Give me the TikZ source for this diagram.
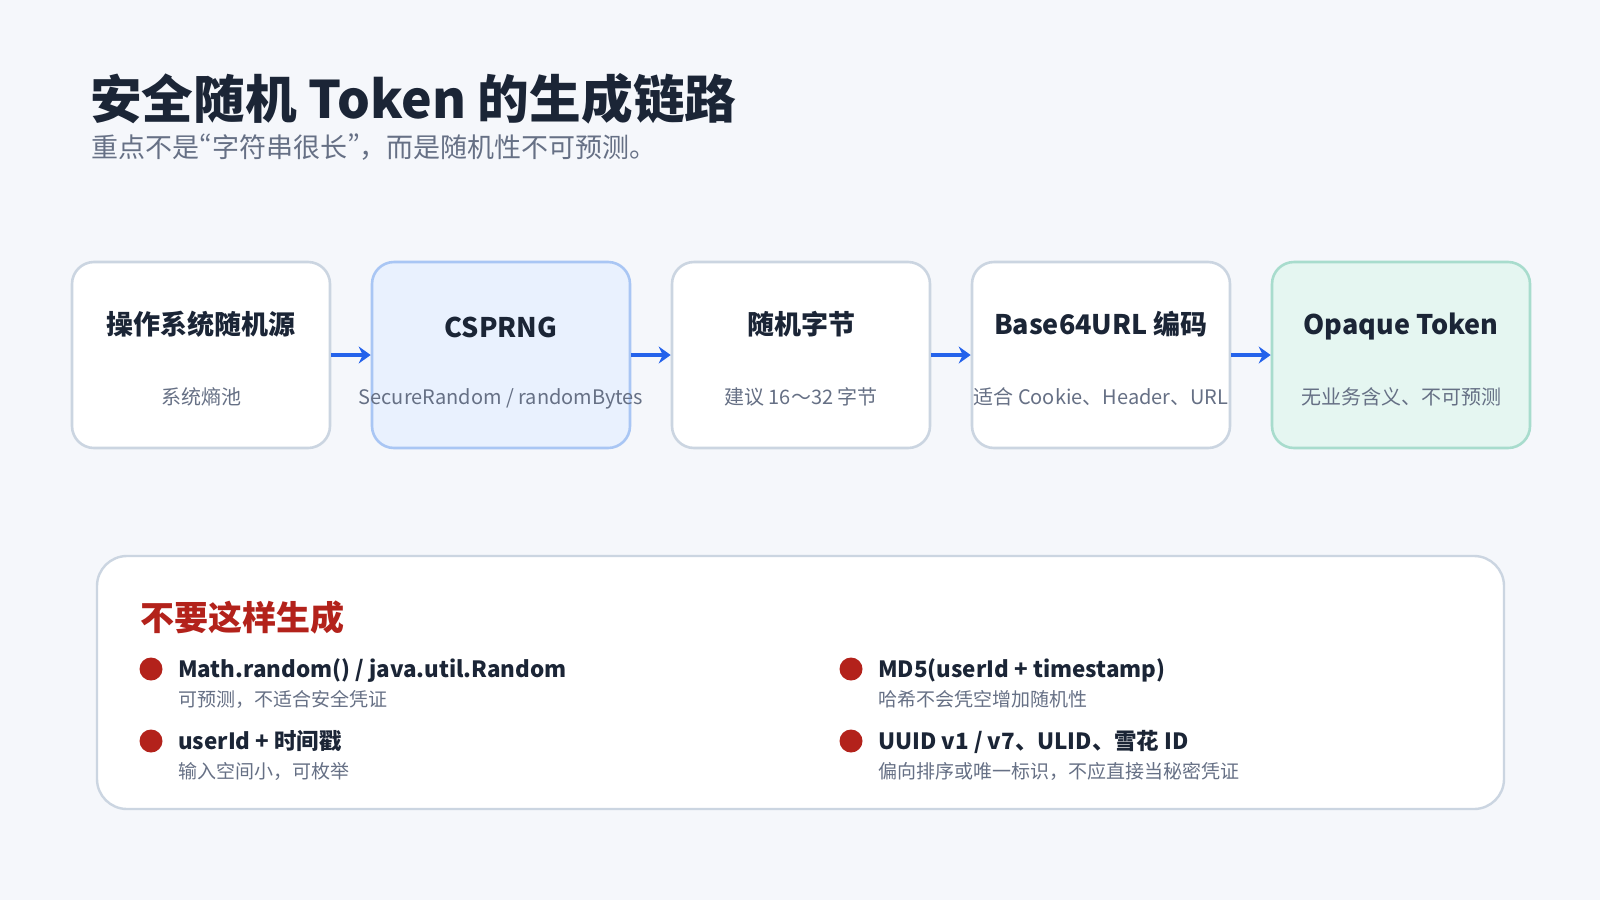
\documentclass[tikz,border=0pt]{standalone}
\usepackage{fontspec}
\setmainfont{Noto Sans CJK SC}
\usetikzlibrary{arrows.meta}

\definecolor{pagebg}{HTML}{F5F7FB}
\definecolor{ink}{HTML}{1B2536}
\definecolor{muted}{HTML}{667085}
\definecolor{edge}{HTML}{CBD5E1}
\definecolor{bluefill}{HTML}{E9F1FE}
\definecolor{blueedge}{HTML}{A9C6F4}
\definecolor{greenfill}{HTML}{E5F6F1}
\definecolor{greenedge}{HTML}{A8DCCD}
\definecolor{flowblue}{HTML}{2563EB}
\definecolor{warnred}{HTML}{B3221B}

% proportional curly quotes inside CJK text
\newcommand{\pq}[1]{{\addfontfeature{RawFeature=+pwid}#1}}

\tikzset{
  stage/.style={draw=edge, fill=white, line width=2.6pt, rounded corners=22pt,
    minimum width=258pt, minimum height=186pt, inner sep=0pt},
  stagetitle/.style={anchor=base, inner sep=0pt, text=ink, font=\fontsize{27}{30}\selectfont\bfseries},
  stagenote/.style={anchor=base, inner sep=0pt, text=muted, font=\fontsize{20}{24}\selectfont},
  flow/.style={draw=flowblue, line width=4.2pt, -{Stealth[length=12pt,width=17pt,inset=4pt]}},
  panel/.style={draw=edge, fill=white, line width=2.4pt, rounded corners=30pt,
    minimum width=1407pt, minimum height=253pt, inner sep=0pt},
  dot/.style={circle, fill=warnred, minimum size=23pt, inner sep=0pt},
  itemtitle/.style={anchor=base west, inner sep=0pt, text=ink, font=\fontsize{22.4}{26}\selectfont\bfseries},
  itemnote/.style={anchor=base west, inner sep=0pt, text=muted, font=\fontsize{19}{22}\selectfont},
}

\begin{document}
\begin{tikzpicture}[x=1pt, y=-1pt]
  \fill[pagebg] (0,0) rectangle (1600,900);
  \useasboundingbox (0,0) rectangle (1600,900);

  % heading
  \node[anchor=base west, inner sep=0pt, text=ink, font=\fontsize{51.7}{60}\selectfont\bfseries]
    (title) at (90,118) {安全随机 Token 的生成链路};
  \node[anchor=base west, inner sep=0pt, text=muted, font=\fontsize{27}{30}\selectfont]
    (subtitle) at (91,157) {重点不是\pq{“}字符串很长\pq{”}，而是随机性不可预测。};

  % pipeline stages
  \node[stage] (s1) at (201,355) {};
  \node[stage, fill=bluefill, draw=blueedge] (s2) at (501,355) {};
  \node[stage] (s3) at (801,355) {};
  \node[stage] (s4) at (1101,355) {};
  \node[stage, fill=greenfill, draw=greenedge] (s5) at (1401,355) {};

  \node[stagetitle] (t1) at (201,334) {操作系统随机源};
  \node[stagenote]  (n1) at (201,404) {系统熵池};
  \node[stagetitle] (t2) at (501,337) {CSPRNG};
  \node[stagenote]  (n2) at (501,404) {SecureRandom / randomBytes};
  \node[stagetitle] (t3) at (801,334) {随机字节};
  \node[stagenote]  (n3) at (801,404) {建议 16～32 字节};
  \node[stagetitle] (t4) at (1101,334) {Base64URL 编码};
  \node[stagenote]  (n4) at (1101,404) {适合 Cookie、Header、URL};
  \node[stagetitle] (t5) at (1401,334) {Opaque Token};
  \node[stagenote]  (n5) at (1401,404) {无业务含义、不可预测};

  \draw[flow] (s1.east) -- (s2.west);
  \draw[flow] (s2.east) -- (s3.west);
  \draw[flow] (s3.east) -- (s4.west);
  \draw[flow] (s4.east) -- (s5.west);

  % anti-patterns panel
  \node[panel] (warn) at (800.5,682.5) {};
  \node[anchor=base west, inner sep=0pt, text=warnred, font=\fontsize{34}{38}\selectfont\bfseries]
    (warnhead) at (140,630) {不要这样生成};

  \node[dot] (d1) at (151,669) {};
  \node[itemtitle] (a1) at (178,677) {Math.random() / java.util.Random};
  \node[itemnote]  (b1) at (178,706) {可预测，不适合安全凭证};

  \node[dot] (d2) at (151,741) {};
  \node[itemtitle] (a2) at (178,749) {userId + 时间戳};
  \node[itemnote]  (b2) at (178,778) {输入空间小，可枚举};

  \node[dot] (d3) at (851,669) {};
  \node[itemtitle] (a3) at (878,677) {MD5(userId + timestamp)};
  \node[itemnote]  (b3) at (878,706) {哈希不会凭空增加随机性};

  \node[dot] (d4) at (851,741) {};
  \node[itemtitle] (a4) at (878,749) {UUID v1 / v7、ULID、雪花 ID};
  \node[itemnote]  (b4) at (878,778) {偏向排序或唯一标识，不应直接当秘密凭证};
\end{tikzpicture}
\end{document}
